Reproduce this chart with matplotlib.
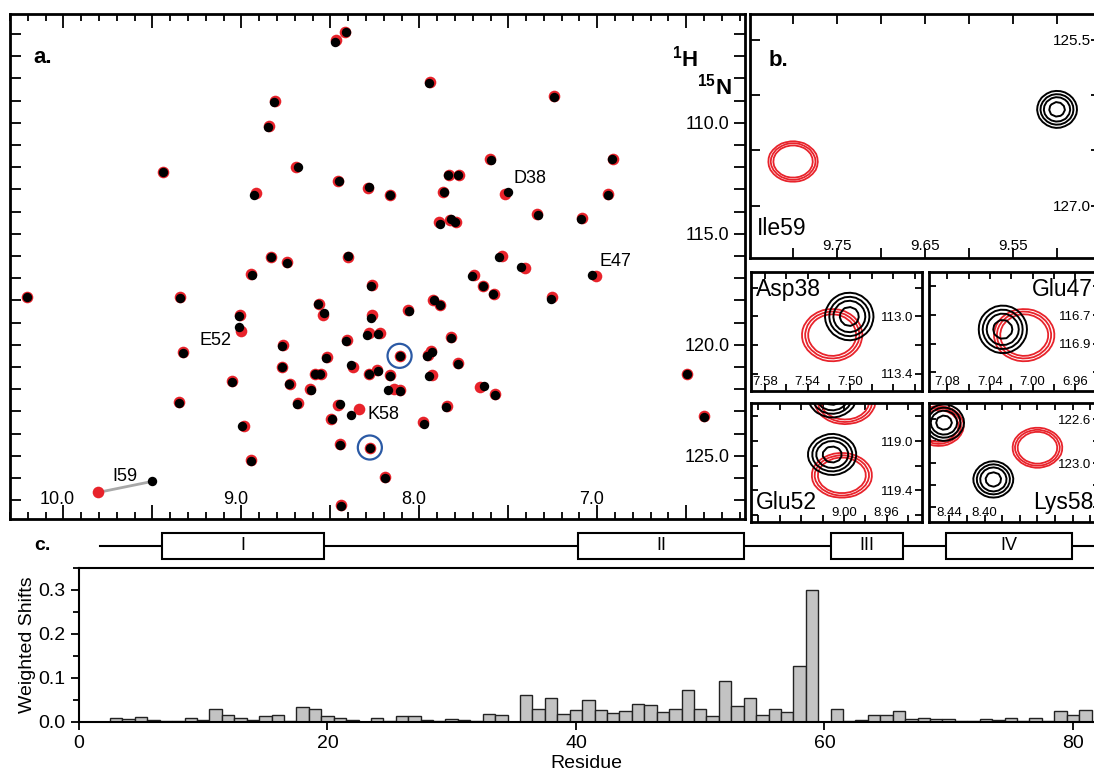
import numpy as np
import matplotlib
matplotlib.use('Agg')
from matplotlib import pyplot as plt
from matplotlib.ticker import MultipleLocator, FixedLocator, FuncFormatter
from matplotlib.patches import Rectangle
from matplotlib.transforms import ScaledTranslation

plt.rcParams['font.family'] = ['Liberation Sans', 'DejaVu Sans']
plt.rcParams['mathtext.fontset'] = 'custom'
plt.rcParams['mathtext.rm'] = 'Liberation Sans'
plt.rcParams['mathtext.bf'] = 'Liberation Sans:bold'

# --- HSQC peak list (1H ppm, 15N ppm): black = free, red = bound ---
black_h = [8.411, 8.476, 7.946, 7.243, 8.816, 8.851, 7.600, 6.916, 9.438, 8.681,
           8.451, 8.284, 7.838, 7.781, 8.162, 7.862, 7.503, 8.927, 6.941, 7.332,
           7.089, 7.886, 7.824, 7.797, 8.832, 8.741, 8.400, 7.551, 7.427, 8.943,
           7.703, 7.032, 8.270, 7.643, 7.584, 7.262, 10.205, 9.343, 8.568, 8.538,
           7.916, 7.884, 8.059, 8.270, 9.011, 9.016, 8.292, 8.230, 8.411, 8.770,
           7.824, 9.330, 8.111, 7.959, 7.927, 8.522, 8.384, 8.773, 7.784, 8.589,
           8.557, 8.281, 8.232, 8.162, 7.946, 9.054, 8.730, 8.611, 8.178, 8.108,
           7.638, 7.576, 6.495, 9.351, 8.686, 8.446, 8.386, 7.849, 8.492, 7.976,
           6.400, 8.995, 8.443, 8.278, 8.946, 8.192, 9.503, 8.438]
black_n = [105.89, 106.35, 108.19, 108.84, 109.06, 110.20, 111.66, 111.64, 112.22, 112.01,
           112.63, 112.91, 112.36, 112.36, 113.26, 113.11, 113.12, 113.24, 113.24, 114.14,
           114.34, 114.54, 114.34, 114.46, 116.06, 116.33, 116.01, 116.03, 116.50, 116.85,
           116.90, 116.86, 117.35, 117.37, 117.73, 117.93, 117.87, 117.88, 118.17, 118.58,
           117.99, 118.23, 118.46, 118.80, 118.71, 119.18, 119.56, 119.53, 119.82, 120.05,
           119.71, 120.35, 120.50, 120.52, 120.32, 120.58, 120.93, 121.00, 120.85, 121.32,
           121.32, 121.31, 121.19, 121.42, 121.42, 121.67, 121.78, 122.02, 122.04, 122.07,
           121.87, 122.25, 121.34, 122.63, 122.66, 122.66, 123.15, 122.82, 123.36, 123.55,
           123.24, 123.67, 124.52, 124.63, 125.22, 126.01, 126.16, 127.25]
red_h = [8.418, 8.466, 7.941, 7.241, 8.812, 8.843, 7.603, 6.914, 9.438, 8.694,
         8.459, 8.291, 7.836, 7.779, 8.163, 7.867, 7.519, 8.920, 6.942, 7.336,
         7.088, 7.892, 7.826, 7.795, 8.834, 8.743, 8.402, 7.537, 7.406, 8.946,
         7.690, 7.010, 8.266, 7.645, 7.583, 7.253, 10.205, 9.343, 8.565, 8.544,
         7.922, 7.885, 8.066, 8.266, 9.005, 9.003, 8.280, 8.220, 8.405, 8.768,
         7.821, 9.327, 8.111, 7.953, 7.935, 8.520, 8.370, 8.772, 7.782, 8.585,
         8.553, 8.283, 8.236, 8.164, 7.930, 9.050, 8.729, 8.614, 8.141, 8.109,
         7.660, 7.577, 6.495, 9.351, 8.681, 8.456, 8.338, 7.844, 8.495, 7.980,
         6.400, 8.985, 8.446, 8.278, 8.944, 8.194, 9.803, 8.438]
red_n = [105.93, 106.26, 108.17, 108.80, 109.03, 110.15, 111.62, 111.62, 112.20, 111.98,
         112.64, 112.95, 112.36, 112.36, 113.24, 113.13, 113.19, 113.17, 113.21, 114.10,
         114.31, 114.45, 114.37, 114.47, 116.04, 116.27, 116.04, 116.01, 116.55, 116.82,
         116.84, 116.91, 117.31, 117.35, 117.70, 117.86, 117.86, 117.86, 118.15, 118.64,
         117.97, 118.21, 118.43, 118.68, 118.66, 119.36, 119.48, 119.47, 119.80, 120.02,
         119.65, 120.31, 120.50, 120.47, 120.30, 120.55, 121.02, 120.98, 120.82, 121.30,
         121.30, 121.30, 121.16, 121.38, 121.38, 121.65, 121.76, 121.98, 122.00, 122.05,
         121.89, 122.23, 121.33, 122.58, 122.62, 122.70, 122.89, 122.78, 123.34, 123.49,
         123.23, 123.67, 124.46, 124.63, 125.18, 125.98, 126.65, 127.22]
circled = [52, 83]          # peaks marked with blue circles
i59 = 86                     # peak joined by the grey shift line

peak_labels = ['D38', 'E47', 'E52', 'K58', 'I59']
label_h = [7.473, 6.986, 9.054, 8.292, 9.724]
label_n = [112.53, 116.26, 119.79, 123.14, 125.95]
label_ha = ['left', 'left', 'right', 'left', 'left']

# --- contour peaks used in the expanded panels ---
cont_black_h = [9.500, 7.501, 7.028, 9.011, 9.011, 8.390, 8.446]
cont_black_n = [126.13, 113.00, 116.80, 119.11, 118.64, 123.15, 122.63]
cont_red_h = [9.800, 7.517, 7.008, 9.002, 8.999, 8.340, 8.452]
cont_red_n = [126.60, 113.13, 116.84, 119.28, 118.68, 122.86, 122.66]

# --- weighted shifts per residue ---
residues = list(range(1, 82))
shifts = [0.0, 0.0, 0.009, 0.007, 0.012, 0.005, 0.003, 0.003, 0.009, 0.005,
          0.029, 0.015, 0.009, 0.004, 0.014, 0.016, 0.003, 0.034, 0.030, 0.014,
          0.008, 0.005, 0.001, 0.010, 0.003, 0.013, 0.013, 0.004, 0.003, 0.007,
          0.005, 0.003, 0.018, 0.016, 0.001, 0.061, 0.030, 0.055, 0.019, 0.028,
          0.051, 0.028, 0.020, 0.025, 0.042, 0.039, 0.023, 0.030, 0.073, 0.030,
          0.013, 0.094, 0.036, 0.054, 0.017, 0.030, 0.023, 0.128, 0.300, 0.0,
          0.029, 0.003, 0.005, 0.017, 0.017, 0.024, 0.007, 0.009, 0.006, 0.007,
          0.003, 0.002, 0.007, 0.004, 0.009, 0.003, 0.009, 0.002, 0.025, 0.017,
          0.027]

# secondary structure elements (residue start, end)
ss_names = ['I', 'II', 'III', 'IV']
ss_start = [6.7, 40.2, 60.5, 69.8]
ss_end = [19.7, 53.5, 66.3, 79.9]

W, H = 1094, 775
RED = '#e8232b'
BLUE = '#2b5aa5'


def px_axes(fig, left, top, right, bottom):
    return fig.add_axes([left / W, 1 - bottom / H, (right - left) / W, (bottom - top) / H])


def inside_labels(ax, xpad, ypad):
    ax.tick_params(which='both', direction='in', top=True, right=True,
                   labelleft=False, labelright=True, width=1.3)
    ax.tick_params(axis='x', pad=xpad)
    ax.tick_params(axis='y', pad=ypad)
    for s in ax.spines.values():
        s.set_linewidth(2)


def contour_panel(ax, xlim, ylim):
    hh = np.linspace(xlim[0], xlim[1], max(int(abs(xlim[1] - xlim[0]) / 0.005), 30))
    nn = np.linspace(ylim[0], ylim[1], max(int(abs(ylim[1] - ylim[0]) / 0.035), 30))
    X, Y = np.meshgrid(hh, nn)
    zb = np.zeros_like(X)
    for h, n in zip(cont_black_h, cont_black_n):
        zb += np.exp(-0.5 * (((X - h) / 0.0125) ** 2 + ((Y - n) / 0.092) ** 2))
    zr = np.zeros_like(X)
    for h, n in zip(cont_red_h, cont_red_n):
        zr += np.exp(-0.5 * (((X - h) / 0.0136) ** 2 + ((Y - n) / 0.088) ** 2))
    ax.contour(X, Y, zr, levels=[0.12, 0.18, 0.26], colors=RED, linewidths=1.3)
    ax.contour(X, Y, zb, levels=[0.2, 0.33, 0.49, 0.77], colors='black', linewidths=1.4)
    ax.set_xlim(xlim)
    ax.set_ylim(ylim)


fig = plt.figure(figsize=(W / 100, H / 100), dpi=100)

# ---------------- panel a ----------------
ax = px_axes(fig, 10, 14, 745, 519)
hb, nb = black_h[i59], black_n[i59]
hr, nr = red_h[i59], red_n[i59]
ax.plot([hr, hb], [nr, nb], color='#a8a8a8', lw=2, zorder=1)
ax.scatter(red_h, red_n, s=70, color=RED, lw=0, zorder=2)
ax.scatter(black_h, black_n, s=46, color='black', lw=0, zorder=3)
ax.scatter([black_h[i] for i in circled], [black_n[i] for i in circled], s=300,
           facecolors='none', edgecolors=BLUE, linewidths=1.6, zorder=4)
for txt, h, n, ha in zip(peak_labels, label_h, label_n, label_ha):
    ax.text(h, n, txt, fontsize=13, ha=ha, va='center')
ax.set_xlim(10.30, 6.17)
ax.set_ylim(127.85, 105.1)
ax.xaxis.set_major_locator(MultipleLocator(0.5))
ax.xaxis.set_minor_locator(MultipleLocator(0.1))
ax.xaxis.set_major_formatter(FuncFormatter(
    lambda v, p: '%.1f' % v if abs(v - round(v)) < 1e-6 else ''))
ax.yaxis.set_major_locator(MultipleLocator(5))
ax.yaxis.set_minor_locator(MultipleLocator(1))
ax.yaxis.set_major_formatter(FuncFormatter(lambda v, p: '%.1f' % v))
inside_labels(ax, -20, -11)
ax.tick_params(axis='x', which='major', length=10, labelsize=13)
ax.tick_params(axis='x', which='minor', length=5)
ax.tick_params(axis='y', which='both', length=8, labelsize=13)
plt.setp(ax.get_yticklabels(), ha='right')
shift_left = ScaledTranslation(-6 / 100, 0, fig.dpi_scale_trans)
for lab in ax.get_xticklabels():
    lab.set_transform(lab.get_transform() + shift_left)
ax.text(0.045, 0.913, 'a.', transform=ax.transAxes, fontsize=16, fontweight='bold',
        ha='center', va='center')
ax.text(0.918, 0.912, r'$\mathbf{^{1}H}$', transform=ax.transAxes, fontsize=16,
        ha='center', va='center')
ax.text(0.958, 0.856, r'$\mathbf{^{15}N}$', transform=ax.transAxes, fontsize=16,
        ha='center', va='center')

# ---------------- panel b ----------------
axb = px_axes(fig, 750, 14, 1101, 258)
contour_panel(axb, (9.849, 9.45), (127.47, 125.27))
axb.xaxis.set_major_locator(FixedLocator([9.75, 9.65, 9.55]))
axb.xaxis.set_minor_locator(FixedLocator([9.80, 9.70, 9.60, 9.50]))
axb.yaxis.set_major_locator(FixedLocator([125.5, 127.0]))
axb.yaxis.set_minor_locator(FixedLocator([126.0, 126.5]))
axb.xaxis.set_major_formatter(FuncFormatter(lambda v, p: '%.2f' % v))
axb.yaxis.set_major_formatter(FuncFormatter(lambda v, p: '%.1f' % v))
inside_labels(axb, -14, -7)
axb.tick_params(which='both', length=7, labelsize=11)
plt.setp(axb.get_yticklabels(), ha='right')
axb.text(0.08, 0.81, 'b.', transform=axb.transAxes, fontsize=16, fontweight='bold',
         ha='center', va='center')
axb.text(0.02, 0.12, 'Ile59', transform=axb.transAxes, fontsize=16.5, ha='left', va='center')

# ---------------- small panels ----------------
small = [
    ('Asp38', (751, 272, 922, 391), (7.593, 7.433), (113.52, 112.69),
     [7.58, 7.54, 7.50], [7.56, 7.52, 7.48, 7.46, 7.44], [113.0, 113.4], [112.8, 113.2], 'tl'),
    ('Glu47', (929, 272, 1100, 391), (7.097, 6.937), (117.23, 116.40),
     [7.08, 7.04, 7.00, 6.96], [7.06, 7.02, 6.98, 6.94], [116.7, 116.9], [116.5, 117.1], 'tr'),
    ('Glu52', (751, 403, 922, 522), (9.087, 8.927), (119.66, 118.69),
     [9.00, 8.96], [9.08, 9.06, 9.04, 9.02, 8.98, 8.94], [119.0, 119.4],
     [118.8, 119.2, 119.6], 'bl'),
    ('Lys58', (929, 403, 1100, 522), (8.463, 8.269), (123.54, 122.45),
     [8.44, 8.40], [8.42, 8.38, 8.36, 8.34, 8.32, 8.30, 8.28], [122.6, 123.0],
     [122.8, 123.2, 123.4], 'br'),
]
for name, rect, xl, yl, xmaj, xmin, ymaj, ymin, corner in small:
    axs = px_axes(fig, *rect)
    contour_panel(axs, xl, yl)
    axs.xaxis.set_major_locator(FixedLocator(xmaj))
    axs.xaxis.set_minor_locator(FixedLocator(xmin))
    axs.yaxis.set_major_locator(FixedLocator(ymaj))
    axs.yaxis.set_minor_locator(FixedLocator(ymin))
    axs.xaxis.set_major_formatter(FuncFormatter(lambda v, p: '%.2f' % v))
    axs.yaxis.set_major_formatter(FuncFormatter(lambda v, p: '%.1f' % v))
    inside_labels(axs, -11, -6)
    axs.tick_params(which='both', length=5, labelsize=9.5)
    plt.setp(axs.get_yticklabels(), ha='right')
    tx = 0.03 if corner[1] == 'l' else 0.96
    ty = 0.85 if corner[0] == 't' else 0.16
    axs.text(tx, ty, name, transform=axs.transAxes, fontsize=16.5,
             ha='left' if corner[1] == 'l' else 'right', va='center')

# ---------------- panel c ----------------
axc = px_axes(fig, 79, 568, 1094, 722)
axc.bar(residues, shifts, width=1.0, color='#c3c3c3', edgecolor='#222222', linewidth=1.0)
axc.set_xlim(0, 81.7)
axc.set_ylim(0, 0.35)
axc.xaxis.set_major_locator(MultipleLocator(20))
axc.yaxis.set_major_locator(MultipleLocator(0.1))
axc.yaxis.set_minor_locator(MultipleLocator(0.05))
axc.yaxis.set_major_formatter(FuncFormatter(lambda v, p: '%.1f' % v))
axc.spines['right'].set_visible(False)
for s in ['left', 'top', 'bottom']:
    axc.spines[s].set_linewidth(1.5)
axc.tick_params(which='both', direction='out', width=1.3, labelsize=14)
axc.tick_params(which='major', length=6)
axc.tick_params(which='minor', length=4)
axc.set_xlabel('Residue', fontsize=14, labelpad=2)
axc.set_ylabel('Weighted Shifts', fontsize=14, labelpad=2)

# secondary structure strip
axs2 = px_axes(fig, 79, 528, 1094, 564)
axs2.set_xlim(0, 81.7)
axs2.set_ylim(0, 1)
axs2.axis('off')
axs2.plot([1.7, 81.7], [0.5, 0.5], color='black', lw=1.5, zorder=1)
for name, a, b in zip(ss_names, ss_start, ss_end):
    axs2.add_patch(Rectangle((a, 0.13), b - a, 0.74, facecolor='white',
                             edgecolor='black', lw=1.5, zorder=2))
    axs2.text((a + b) / 2, 0.5, name, fontsize=13, ha='center', va='center', zorder=3)
fig.text(42 / W, 1 - 546 / H, 'c.', fontsize=14, fontweight='bold', ha='center', va='center')

fig.savefig('out.png', dpi=100)
